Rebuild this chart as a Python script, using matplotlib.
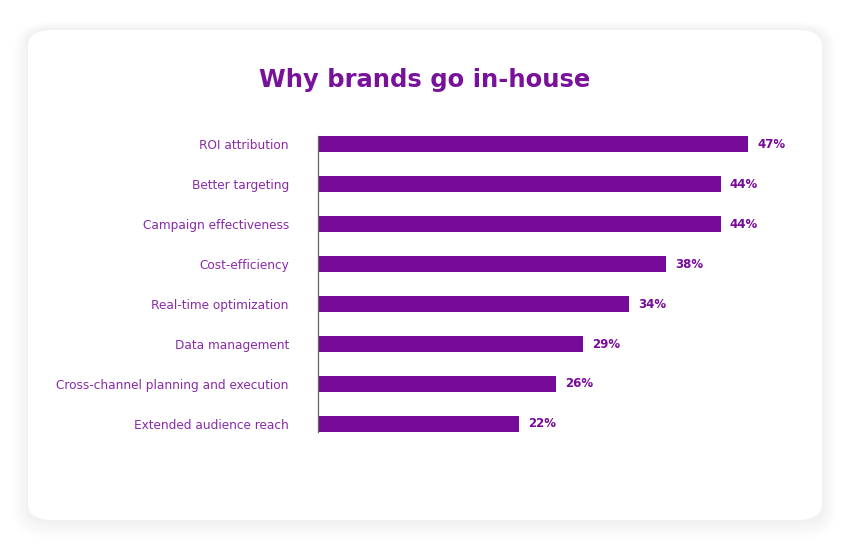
import matplotlib

matplotlib.use("Agg")
import matplotlib.pyplot as plt
from matplotlib.patches import FancyBboxPatch

plt.rcParams["font.family"] = ["DejaVu Sans"]

reasons = [
    "ROI attribution",
    "Better targeting",
    "Campaign effectiveness",
    "Cost-efficiency",
    "Real-time optimization",
    "Data management",
    "Cross-channel planning and execution",
    "Extended audience reach",
]
shares = [47, 44, 44, 38, 34, 29, 26, 22]  # %

BAR_COLOR = "#760A99"
TITLE_COLOR = "#78129B"
LABEL_COLOR = "#8A2AAA"

W, H = 850, 550
fig = plt.figure(figsize=(W / 100, H / 100), dpi=100)
fig.patch.set_facecolor("white")

# card with soft shadow
card_x, card_y, card_w, card_h = 28, 30, 794, 490
for i in range(14, 0, -1):
    fig.patches.append(FancyBboxPatch(
        ((card_x - i * 1.0) / W, 1 - (card_y + card_h + i * 1.4) / H),
        (card_w + i * 2.0) / W, (card_h + i * 2.0) / H,
        boxstyle=f"round,pad=0,rounding_size={(25 + i) / W}",
        transform=fig.transFigure, facecolor="black", alpha=0.004,
        edgecolor="none", zorder=0))
fig.patches.append(FancyBboxPatch(
    (card_x / W, 1 - (card_y + card_h) / H), card_w / W, card_h / H,
    boxstyle=f"round,pad=0,rounding_size={25 / W}",
    transform=fig.transFigure, facecolor="white", edgecolor="none", zorder=1))

ax = fig.add_axes([318 / W, 1 - 432 / H, (800 - 318) / W, (432 - 136) / H])
ax.set_facecolor("none")
ax.set_zorder(2)
y = list(range(len(reasons)))
ax.barh(y, shares, height=0.4, color=BAR_COLOR)
for yi, v in zip(y, shares):
    ax.text(v + 1.0, yi, f"{v}%", va="center", ha="left", fontsize=8.5,
            fontweight="bold", color=BAR_COLOR)
ax.set_xlim(0, (800 - 318) / 9.15)
ax.set_ylim(len(reasons) - 0.8, -0.2)
ax.set_yticks(y)
ax.set_yticklabels(reasons, fontsize=8.7, color=LABEL_COLOR)
ax.tick_params(axis="y", length=0, pad=21)
ax.set_xticks([])
for side in ["top", "right", "bottom"]:
    ax.spines[side].set_visible(False)
ax.spines["left"].set_color("#666666")
ax.spines["left"].set_linewidth(0.9)

fig.text(425 / W, 1 - 80 / H, "Why brands go in-house", ha="center", va="center",
         fontsize=17.5, fontweight="bold", color=TITLE_COLOR)

fig.savefig("out.png", dpi=100)
